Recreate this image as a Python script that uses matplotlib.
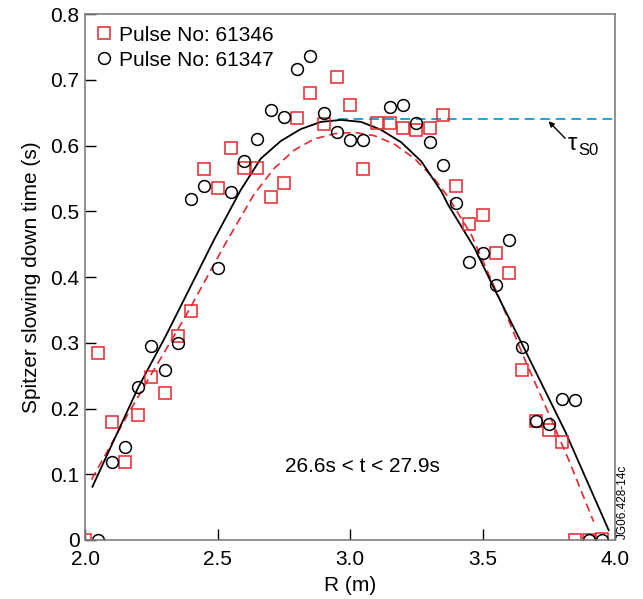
import matplotlib

matplotlib.use("Agg")
import matplotlib.pyplot as plt

plt.rcParams["font.family"] = ["Liberation Sans", "DejaVu Sans"]

# measured points, pulse 61346 (red squares)
r_61346 = [2.00, 2.05, 2.10, 2.15, 2.20, 2.25, 2.30, 2.35, 2.40, 2.45, 2.50, 2.55,
           2.60, 2.65, 2.70, 2.75, 2.80, 2.85, 2.90, 2.95, 3.00, 3.05, 3.10, 3.15,
           3.20, 3.25, 3.30, 3.35, 3.40, 3.45, 3.50, 3.55, 3.60, 3.65, 3.70, 3.75,
           3.80, 3.85, 3.90, 3.95]
tau_61346 = [0.000, 0.285, 0.180, 0.119, 0.190, 0.248, 0.224, 0.311, 0.348, 0.565,
             0.535, 0.597, 0.566, 0.566, 0.521, 0.543, 0.642, 0.680, 0.633, 0.705,
             0.661, 0.564, 0.635, 0.634, 0.626, 0.624, 0.626, 0.646, 0.539, 0.481,
             0.495, 0.437, 0.406, 0.258, 0.181, 0.167, 0.149, 0.000, 0.000, 0.002]

# measured points, pulse 61347 (black circles)
r_61347 = [2.05, 2.10, 2.15, 2.20, 2.25, 2.30, 2.35, 2.40, 2.45, 2.50, 2.55, 2.60,
           2.65, 2.70, 2.75, 2.80, 2.85, 2.90, 2.95, 3.00, 3.05, 3.15, 3.20, 3.25,
           3.30, 3.35, 3.40, 3.45, 3.50, 3.55, 3.60, 3.65, 3.70, 3.75, 3.80, 3.85,
           3.90, 3.95]
tau_61347 = [0.000, 0.118, 0.142, 0.232, 0.295, 0.258, 0.300, 0.519, 0.538, 0.414,
             0.530, 0.576, 0.610, 0.654, 0.644, 0.716, 0.736, 0.649, 0.621, 0.608,
             0.608, 0.658, 0.662, 0.634, 0.606, 0.570, 0.512, 0.423, 0.436, 0.388,
             0.456, 0.294, 0.181, 0.177, 0.214, 0.213, 0.000, 0.000]

# fitted profile for 61347 (black solid)
r_fit_black = [2.028, 2.202, 2.303, 2.379, 2.486, 2.587, 2.663, 2.739, 2.814, 2.890,
               2.966, 3.042, 3.117, 3.193, 3.269, 3.345, 3.370, 3.470, 3.547, 3.648,
               3.812, 3.976]
tau_fit_black = [0.081, 0.233, 0.309, 0.370, 0.456, 0.532, 0.580, 0.607, 0.625, 0.636,
                 0.639, 0.636, 0.624, 0.605, 0.576, 0.530, 0.510, 0.444, 0.380, 0.299,
                 0.165, 0.015]

# fitted profile for 61346 (red dashed)
r_fit_red = [2.025, 2.164, 2.253, 2.379, 2.530, 2.638, 2.713, 2.789, 2.865, 2.941,
             3.016, 3.092, 3.168, 3.244, 3.319, 3.370, 3.458, 3.572, 3.660, 3.749,
             3.825, 3.919]
tau_fit_red = [0.092, 0.193, 0.254, 0.340, 0.451, 0.526, 0.565, 0.593, 0.610, 0.618,
               0.620, 0.615, 0.602, 0.580, 0.549, 0.522, 0.464, 0.360, 0.274, 0.193,
               0.122, 0.028]

# tau_S0 level
tau_s0_r = [2.953, 4.0]
tau_s0 = [0.640, 0.640]

x_ticks = [2.0, 2.5, 3.0, 3.5, 4.0]
x_tick_labels = ["2.0", "2.5", "3.0", "3.5", "4.0"]
y_ticks = [0, 0.1, 0.2, 0.3, 0.4, 0.5, 0.6, 0.7, 0.8]
y_tick_labels = ["0", "0.1", "0.2", "0.3", "0.4", "0.5", "0.6", "0.7", "0.8"]

red = "#e8262d"
blue = "#1aa7e0"

fig = plt.figure(figsize=(6.43, 5.99), dpi=100)
ax = fig.add_axes([0.1322, 0.0985, 0.8243, 0.878])

ax.plot(tau_s0_r, tau_s0, color=blue, lw=1.4, dashes=(5, 3))
ax.plot(r_fit_red, tau_fit_red, color=red, lw=1.2, dashes=(5, 3))
ax.plot(r_fit_black, tau_fit_black, color="black", lw=1.3)

ax.plot(r_61346, tau_61346, ls="none", marker="s", ms=8, mfc="none", mec=red,
        mew=1.1, label="Pulse No: 61346")
ax.plot(r_61347, tau_61347, ls="none", marker="o", ms=8.5, mfc="none", mec="black",
        mew=1.1, label="Pulse No: 61347")

ax.set_xlim(2.0, 4.0)
ax.set_ylim(0, 0.8)
ax.set_xticks(x_ticks)
ax.set_xticklabels(x_tick_labels)
ax.set_yticks(y_ticks)
ax.set_yticklabels(y_tick_labels)
ax.tick_params(direction="in", length=8, width=1, labelsize=15,
               top=False, right=False)
ax.tick_params(axis="y", pad=4)
ax.tick_params(axis="x", pad=7)
for spine in ax.spines.values():
    spine.set_color("#808080")
    spine.set_linewidth(1.2)

ax.set_xlabel("R (m)", fontsize=15, labelpad=5)
ax.set_ylabel("Spitzer slowing down time (s)", fontsize=15, labelpad=7)

ax.legend(loc="upper left", frameon=False, fontsize=15, handlelength=0.7,
          handletextpad=0.4, labelspacing=0.3, borderaxespad=0.2,
          borderpad=0.35)

ax.text(3.045, 0.112, "26.6s < t < 27.9s", fontsize=15, ha="center", va="center")

ax.annotate("", xy=(3.749, 0.637), xytext=(3.812, 0.611),
            arrowprops=dict(arrowstyle="-|>", color="black", lw=1.0,
                            mutation_scale=8, shrinkA=0, shrinkB=0))
ax.text(3.82, 0.603, "τ", fontsize=17, ha="left", va="center")
ax.text(3.862, 0.593, "S0", fontsize=12, ha="left", va="center")

fig.text(0.968, 0.1, "JG06.428-14c", fontsize=8.5, rotation=90,
         ha="center", va="bottom")

fig.savefig("out.png", dpi=100)
